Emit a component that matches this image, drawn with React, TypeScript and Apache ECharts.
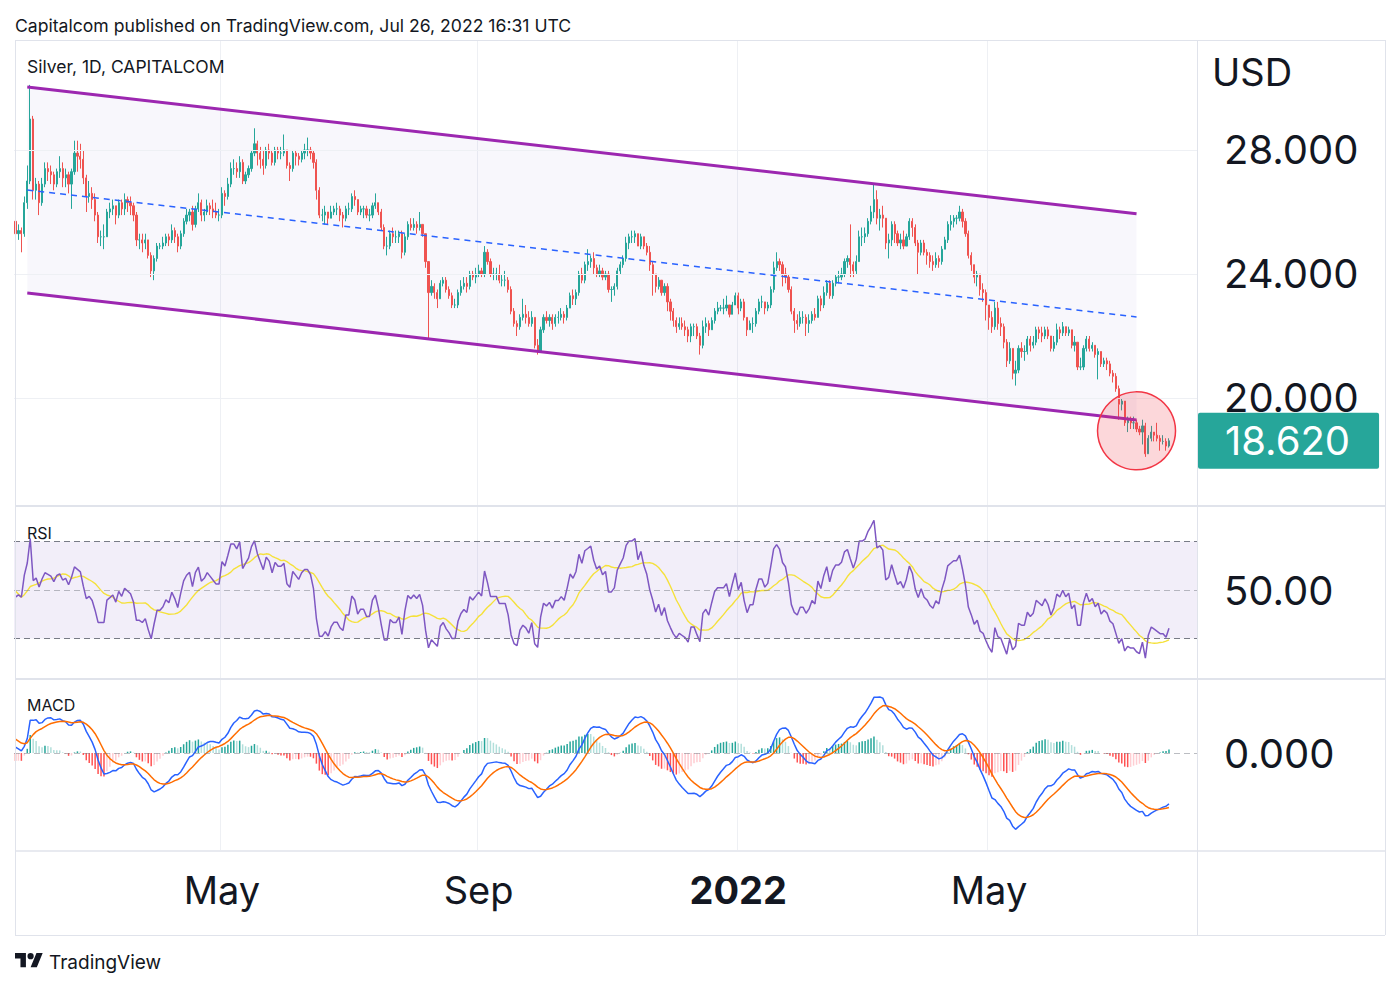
import React, { useEffect, useRef } from 'react';
import * as echarts from 'echarts';

const FONT = 'Inter, "Noto Sans", Roboto, sans-serif';

// ---------- DATA ----------
const startDate = '2021-01-25';
const futureBars = 9;

// closes before the visible window (only used to warm up RSI / MACD)
const warmupCloses = [
  24.8, 24.4, 24.2, 23.9, 24.1,
  23.5, 23.5, 23.4, 23.4, 22.7,
  22.5, 24.2, 24.3, 24.5, 24.1,
  25.2, 25.2, 23.9, 24.0, 23.9,
  24.0, 24.7, 24.9, 26.0, 25.8,
  25.9, 25.6, 25.6, 25.8, 25.8,
  26.3, 26.3, 26.4, 26.4, 26.4,
  27.3, 27.6, 27.1, 27.2, 24.9,
  24.5, 25.3, 25.4, 25.6, 24.8,
  25.0, 25.5, 25.8, 26.1, 25.7,
];

// daily closes, one week (Mon-Fri) per line, 2021-01-25 .. 2022-07-26
const closes = [
  25.30, 25.40, 25.30, 26.30, 27.00,
  29.00, 26.70, 26.90, 26.30, 26.90,
  27.40, 27.30, 27.20, 26.90, 27.30,
  27.40, 27.10, 27.20, 26.90, 27.30,
  27.90, 27.80, 27.70, 27.10, 26.50,
  26.60, 26.40, 25.90, 25.20, 25.20,
  25.20, 26.00, 26.10, 26.20, 25.90,
  26.30, 26.10, 26.40, 26.30, 26.20,
  25.90, 25.10, 25.10, 25.00, 25.10,
  24.60, 24.10, 24.50, 24.90, 24.90,
  25.00, 25.20, 25.10, 25.40, 25.20,
  24.90, 25.30, 25.70, 25.90, 26.00,
  25.60, 26.10, 26.30, 25.90, 26.00,
  26.20, 26.10, 26.00, 25.90, 25.90,
  26.60, 26.50, 26.90, 27.40, 27.40,
  27.30, 27.60, 27.00, 27.20, 27.40,
  27.90, 28.20, 27.90, 27.70, 27.50,
  28.00, 27.90, 27.60, 28.00, 27.90,
  27.90, 28.00, 27.50, 27.40, 27.90,
  27.80, 27.70, 27.90, 28.00, 28.00,
  27.90, 27.60, 26.70, 25.90, 25.90,
  26.00, 25.80, 26.00, 26.10, 26.10,
  25.90, 25.80, 26.10, 26.10, 26.50,
  26.40, 26.00, 26.10, 26.10, 25.90,
  25.90, 26.20, 26.30, 26.00, 25.50,
  24.90, 24.90, 25.30, 25.20, 25.20,
  25.30, 24.70, 25.20, 25.60, 25.50,
  25.60, 25.50, 25.60, 25.30, 24.40,
  23.40, 23.60, 23.40, 23.20, 23.70,
  23.80, 23.50, 23.30, 23.00, 23.00,
  23.40, 23.60, 23.70, 23.60, 24.00,
  23.90, 24.00, 24.10, 24.00, 24.70,
  24.40, 24.00, 24.00, 24.00, 23.80,
  23.80, 23.80, 23.50, 22.80, 22.40,
  22.30, 22.60, 22.70, 22.60, 22.40,
  22.60, 21.70, 21.50, 22.20, 22.60,
  22.50, 22.60, 22.40, 22.60, 22.60,
  22.70, 22.60, 22.90, 23.30, 23.20,
  23.40, 24.00, 23.80, 24.30, 24.40,
  24.50, 24.20, 24.00, 24.10, 23.90,
  24.00, 23.50, 23.50, 23.60, 24.10,
  24.30, 24.50, 25.00, 25.20, 25.20,
  25.30, 24.90, 25.20, 24.90, 24.70,
  24.30, 24.00, 23.60, 23.80, 23.40,
  23.60, 23.10, 22.80, 22.50, 22.30,
  22.40, 22.30, 22.20, 22.00, 22.30,
  22.30, 22.00, 21.70, 22.30, 22.40,
  22.20, 22.50, 22.80, 22.90, 22.90,
  22.90, 23.00, 22.70, 23.00, 23.30,
  22.90, 23.10, 22.60, 22.20, 22.40,
  22.40, 22.80, 23.10, 23.10, 22.90,
  23.00, 23.50, 24.20, 24.40, 24.30,
  24.00, 23.90, 23.50, 22.80, 22.50,
  22.40, 22.60, 22.60, 22.40, 22.50,
  22.70, 22.60, 23.20, 23.00, 23.40,
  23.70, 23.30, 23.70, 23.90, 23.90,
  24.00, 24.40, 24.50, 24.30, 24.10,
  24.40, 25.20, 25.20, 25.30, 25.70,
  26.00, 26.40, 25.80, 25.90, 25.80,
  25.00, 25.10, 25.60, 25.30, 25.00,
  25.10, 24.90, 25.20, 25.70, 25.50,
  25.00, 24.70, 25.00, 24.70, 24.60,
  24.40, 24.30, 24.50, 24.40, 24.80,
  25.10, 25.60, 25.70, 25.80, 25.80,
  26.00, 25.70, 25.30, 24.60, 24.30,
  23.90, 24.00, 23.50, 23.40, 23.00,
  22.60, 22.30, 22.90, 22.40, 22.30,
  21.80, 21.20, 21.60, 20.80, 20.90,
  21.60, 21.50, 21.50, 21.90, 21.70,
  21.80, 22.20, 22.10, 22.00, 22.20,
  22.00, 21.60, 21.80, 22.20, 22.10,
  22.30, 22.10, 22.20, 21.70, 21.80,
  21.00, 21.00, 21.60, 21.90, 21.60,
  21.70, 21.40, 21.50, 21.10, 21.20,
  21.10, 20.80, 20.70, 20.30, 19.80,
  19.90, 19.20, 19.30, 19.20, 19.20,
  19.00, 18.90, 19.10, 18.20, 18.70,
  18.90, 18.80, 18.70, 18.60, 18.60,
  18.45, 18.62,
];

const highs = [
  25.80, 25.60, 25.50, 26.50, 27.50,
  30.10, 29.10, 27.10, 27.00, 27.10,
  27.60, 27.60, 27.50, 27.30, 27.40,
  27.80, 27.60, 27.40, 27.30, 27.40,
  28.30, 28.30, 28.20, 28.00, 27.20,
  27.00, 26.80, 26.60, 26.00, 25.40,
  25.60, 26.10, 26.30, 26.40, 26.20,
  26.40, 26.40, 26.60, 26.50, 26.50,
  26.30, 26.00, 25.30, 25.30, 25.30,
  25.10, 24.70, 24.60, 25.00, 25.00,
  25.20, 25.30, 25.30, 25.60, 25.50,
  25.30, 25.40, 25.80, 26.10, 26.10,
  26.20, 26.20, 26.60, 26.40, 26.10,
  26.40, 26.30, 26.40, 26.30, 26.10,
  26.80, 26.70, 27.10, 27.60, 27.70,
  27.60, 27.80, 27.70, 27.30, 27.50,
  28.00, 28.70, 28.30, 28.10, 28.00,
  28.10, 28.20, 28.00, 28.10, 28.10,
  28.10, 28.50, 28.00, 27.60, 28.00,
  28.00, 27.90, 28.00, 28.20, 28.40,
  28.10, 28.00, 27.70, 26.80, 26.10,
  26.20, 26.00, 26.20, 26.20, 26.30,
  26.20, 26.00, 26.20, 26.30, 26.60,
  26.70, 26.40, 26.20, 26.20, 26.20,
  26.10, 26.30, 26.60, 26.30, 26.10,
  25.60, 25.20, 25.40, 25.50, 25.40,
  25.40, 25.40, 25.30, 25.70, 25.80,
  25.80, 25.70, 26.00, 25.60, 25.30,
  24.40, 23.80, 23.70, 23.50, 23.80,
  23.90, 23.90, 23.60, 23.40, 23.20,
  23.50, 23.80, 23.90, 23.90, 24.10,
  24.10, 24.20, 24.30, 24.20, 24.90,
  24.80, 24.50, 24.20, 24.20, 24.30,
  24.00, 24.10, 23.90, 23.60, 22.90,
  22.50, 22.70, 23.20, 23.00, 22.80,
  22.80, 22.60, 21.90, 22.30, 22.70,
  22.80, 22.70, 22.70, 22.70, 22.80,
  22.90, 22.80, 23.00, 23.40, 23.50,
  23.50, 24.10, 24.20, 24.40, 24.80,
  24.60, 24.70, 24.30, 24.30, 24.20,
  24.10, 24.10, 23.60, 23.70, 24.20,
  24.40, 24.60, 25.20, 25.30, 25.40,
  25.40, 25.30, 25.30, 25.20, 25.00,
  24.90, 24.40, 24.00, 23.90, 23.80,
  23.70, 23.70, 23.20, 22.90, 22.60,
  22.60, 22.60, 22.50, 22.30, 22.40,
  22.40, 22.40, 22.10, 22.50, 22.60,
  22.50, 22.60, 22.90, 23.10, 23.00,
  23.20, 23.30, 23.00, 23.10, 23.40,
  23.40, 23.20, 23.20, 22.60, 22.50,
  22.60, 22.90, 23.20, 23.30, 23.10,
  23.10, 23.60, 24.40, 24.70, 24.50,
  24.40, 24.20, 24.00, 23.60, 22.90,
  22.70, 22.80, 22.80, 22.70, 22.70,
  22.80, 22.90, 23.30, 23.30, 23.60,
  23.80, 23.80, 23.80, 24.00, 24.10,
  24.20, 24.50, 24.60, 25.60, 24.40,
  24.60, 25.40, 25.50, 25.50, 25.80,
  26.20, 26.90, 26.70, 26.10, 26.20,
  25.80, 25.30, 25.70, 25.70, 25.40,
  25.30, 25.40, 25.30, 25.80, 25.80,
  25.60, 25.10, 25.10, 25.10, 24.80,
  24.70, 24.60, 24.70, 24.60, 24.90,
  25.20, 25.70, 25.90, 25.90, 25.90,
  26.20, 26.10, 25.80, 25.40, 24.70,
  24.30, 24.10, 24.00, 23.70, 23.50,
  23.00, 22.80, 23.10, 23.10, 22.60,
  22.40, 21.90, 21.80, 21.60, 21.20,
  21.70, 21.80, 21.70, 22.00, 22.00,
  22.00, 22.30, 22.30, 22.30, 22.30,
  22.30, 22.00, 22.00, 22.40, 22.30,
  22.45, 22.30, 22.30, 22.20, 22.00,
  21.80, 21.30, 21.70, 22.00, 22.00,
  21.80, 21.70, 21.60, 21.50, 21.30,
  21.30, 21.20, 20.90, 20.80, 20.40,
  20.00, 19.90, 19.40, 19.40, 19.40,
  19.30, 19.10, 19.30, 19.20, 18.80,
  19.10, 18.90, 19.20, 18.80, 18.80,
  18.70, 18.70,
];

const lows = [
  25.10, 25.10, 24.70, 25.20, 26.10,
  26.90, 26.40, 26.40, 25.90, 26.20,
  26.80, 27.00, 26.90, 26.70, 26.80,
  27.10, 26.80, 26.80, 26.60, 26.10,
  27.20, 27.30, 27.40, 26.90, 26.00,
  26.30, 26.10, 25.70, 25.00, 24.90,
  24.80, 25.20, 25.80, 25.90, 25.60,
  25.80, 25.90, 25.90, 26.00, 25.90,
  25.70, 24.90, 24.80, 24.70, 24.80,
  24.50, 23.90, 23.80, 24.40, 24.80,
  24.80, 24.90, 24.90, 25.00, 25.00,
  24.70, 24.80, 25.20, 25.60, 25.70,
  25.40, 25.50, 26.00, 25.70, 25.70,
  25.90, 25.90, 25.80, 25.80, 25.70,
  25.80, 26.20, 26.40, 26.80, 27.20,
  27.10, 27.10, 26.90, 26.90, 27.10,
  27.30, 27.80, 27.50, 27.40, 27.20,
  27.40, 27.70, 27.50, 27.50, 27.70,
  27.70, 27.80, 27.40, 27.00, 27.30,
  27.50, 27.50, 27.60, 27.70, 27.80,
  27.70, 27.40, 26.40, 25.80, 25.70,
  25.60, 25.60, 25.80, 25.90, 25.90,
  25.70, 25.50, 25.70, 25.90, 26.00,
  26.20, 25.90, 25.90, 25.80, 25.80,
  25.70, 25.80, 26.10, 25.90, 25.40,
  24.80, 24.60, 24.80, 25.00, 25.00,
  25.00, 24.50, 24.60, 25.10, 25.40,
  25.40, 25.30, 25.40, 25.20, 24.20,
  21.90, 23.30, 23.20, 22.90, 23.20,
  23.60, 23.40, 23.20, 22.90, 22.90,
  22.90, 23.30, 23.50, 23.40, 23.50,
  23.80, 23.70, 23.90, 23.90, 23.90,
  24.30, 23.90, 23.80, 23.80, 23.70,
  23.60, 23.60, 23.40, 22.70, 22.30,
  22.00, 22.20, 22.50, 22.40, 22.30,
  22.30, 21.60, 21.40, 21.50, 22.10,
  22.40, 22.30, 22.20, 22.30, 22.40,
  22.50, 22.40, 22.50, 22.90, 23.00,
  23.00, 23.30, 23.70, 23.70, 24.10,
  24.20, 24.00, 23.90, 23.90, 23.80,
  23.80, 23.40, 23.10, 23.30, 23.50,
  24.00, 24.20, 24.40, 24.80, 25.00,
  25.00, 24.90, 24.80, 24.80, 24.60,
  24.10, 23.30, 23.40, 23.50, 23.30,
  23.30, 22.80, 22.50, 22.30, 22.10,
  22.20, 22.20, 22.00, 21.80, 21.80,
  22.00, 21.90, 21.40, 21.60, 22.10,
  22.00, 22.20, 22.40, 22.70, 22.80,
  22.70, 22.80, 22.60, 22.70, 23.00,
  22.70, 22.80, 22.50, 22.00, 22.20,
  22.10, 22.30, 22.70, 22.90, 22.70,
  22.80, 22.90, 23.40, 24.10, 24.10,
  23.60, 23.70, 23.40, 22.70, 22.10,
  22.20, 22.30, 22.40, 22.00, 22.10,
  22.40, 22.50, 22.60, 22.80, 22.90,
  23.30, 23.20, 23.20, 23.60, 23.70,
  23.80, 23.90, 24.20, 23.90, 23.90,
  24.00, 24.50, 24.90, 25.00, 25.20,
  25.60, 25.80, 25.60, 25.40, 25.50,
  24.80, 24.50, 24.90, 25.00, 24.90,
  24.80, 24.80, 24.90, 25.10, 25.20,
  24.90, 24.00, 24.60, 24.60, 24.30,
  24.20, 24.10, 24.20, 24.20, 24.30,
  24.80, 25.00, 25.40, 25.50, 25.60,
  25.70, 25.50, 25.20, 24.50, 24.10,
  23.70, 23.60, 23.30, 23.10, 22.50,
  22.20, 22.10, 22.20, 22.20, 22.00,
  21.60, 21.00, 21.10, 20.60, 20.40,
  20.80, 21.30, 21.20, 21.40, 21.50,
  21.60, 21.70, 21.90, 21.80, 21.90,
  21.90, 21.50, 21.50, 21.70, 21.90,
  22.00, 22.00, 22.00, 21.60, 21.50,
  20.90, 20.90, 20.90, 21.50, 21.50,
  21.50, 21.30, 20.60, 21.00, 21.00,
  20.90, 20.70, 20.50, 20.20, 19.30,
  19.60, 19.10, 18.90, 19.00, 19.00,
  18.90, 18.80, 18.50, 18.10, 18.20,
  18.60, 18.60, 18.60, 18.30, 18.50,
  18.30, 18.40,
];

// time-axis tick labels
const tickDates = ['2021-05-03', '2021-09-01', '2022-01-03', '2022-05-02'];
const tickLabels = ['May', 'Sep', '2022', 'May'];

// price-scale labels
const priceTicks = [20, 24, 28];
const rsiTicks = [50];
const rsiLevels = [70, 50, 30];
const macdTicks = [0];

// drawings: parallel channel (bar index, upper price, lower price) and the highlight circle
const channelIdx = [4, 380];
const channelUpper = [30.03, 25.94];
const channelLower = [23.39, 19.29];
const highlightIdx = 380;
const highlightPrice = 18.94;

// ---------- helpers ----------
function tradingDates(start: string, count: number): string[] {
  const out: string[] = [];
  const d = new Date(start + 'T00:00:00Z');
  while (out.length < count) {
    const wd = d.getUTCDay();
    if (wd !== 0 && wd !== 6) out.push(d.toISOString().slice(0, 10));
    d.setUTCDate(d.getUTCDate() + 1);
  }
  return out;
}

function rsiCalc(c: number[], n: number): (number | null)[] {
  const res: (number | null)[] = new Array(c.length).fill(null);
  let ag = 0, al = 0;
  for (let i = 1; i < c.length; i++) {
    const ch = c[i] - c[i - 1];
    const g = Math.max(ch, 0), l = Math.max(-ch, 0);
    if (i <= n) {
      ag += g / n; al += l / n;
      if (i === n) res[i] = al === 0 ? 100 : 100 - 100 / (1 + ag / al);
    } else {
      ag = (ag * (n - 1) + g) / n; al = (al * (n - 1) + l) / n;
      res[i] = al === 0 ? 100 : 100 - 100 / (1 + ag / al);
    }
  }
  return res;
}

function smaCalc(src: (number | null)[], n: number): (number | null)[] {
  return src.map((_, i) => {
    if (i < n - 1) return null;
    let s = 0;
    for (let k = i - n + 1; k <= i; k++) { const v = src[k]; if (v == null) return null; s += v; }
    return s / n;
  });
}

function emaCalc(src: (number | null)[], n: number): (number | null)[] {
  const out: (number | null)[] = new Array(src.length).fill(null);
  const a = 2 / (n + 1);
  let prev: number | null = null; const buf: number[] = [];
  for (let i = 0; i < src.length; i++) {
    const v = src[i];
    if (v == null) continue;
    if (prev == null) {
      buf.push(v);
      if (buf.length === n) { prev = buf.reduce((x, y) => x + y, 0) / n; out[i] = prev; }
    } else { prev = a * v + (1 - a) * prev; out[i] = prev; }
  }
  return out;
}

const logoPath = 'M14 22H7V11H0V4h14v18zM28 22h-8l7.5-18h8L28 22zM16 8a4 4 0 1 0 8 0a4 4 0 1 0 -8 0z';
echarts.graphic.registerShape('tvlogo', (echarts.graphic as any).extendPath(logoPath, {}));

function buildOption() {
  const n = closes.length;
  const dates = tradingDates(startDate, n + futureBars);
  const tickMap: Record<string, string> = {};
  tickDates.forEach((t, k) => { tickMap[t] = tickLabels[k]; });

  const candles = closes.map((c, i) => {
    const o = i === 0 ? warmupCloses[warmupCloses.length - 1] : closes[i - 1];
    return [o, c, Math.min(lows[i], o, c), Math.max(highs[i], o, c)];
  });

  const all = warmupCloses.concat(closes);
  const off = warmupCloses.length;
  const rsiAll = rsiCalc(all, 14);
  const rsiMaAll = smaCalc(rsiAll, 14);
  const e12 = emaCalc(all, 12), e26 = emaCalc(all, 26);
  const macdAll = all.map((_, i) => (e12[i] != null && e26[i] != null ? (e12[i] as number) - (e26[i] as number) : null));
  const sigAll = emaCalc(macdAll, 9);
  const histAll = macdAll.map((m, i) => (m != null && sigAll[i] != null ? m - (sigAll[i] as number) : null));
  const histItems = histAll.map((h, i) => {
    if (h == null) return null;
    const p = i > 0 ? histAll[i - 1] : null;
    const rising = p != null && h > p;
    const color = h >= 0 ? (rising ? '#26a69a' : '#b2dfdb') : (rising ? '#ffcdd2' : '#ff5252');
    return { value: h, itemStyle: { color } };
  });

  const rsi = rsiAll.slice(off);
  const rsiMa = rsiMaAll.slice(off);
  const macd = macdAll.slice(off);
  const sig = sigAll.slice(off);
  const hist = histItems.slice(off);

  const vis = ([] as (number | null)[]).concat(macd, sig).filter((v) => v != null) as number[];
  const mx = Math.max(...vis), mn = Math.min(...vis);
  const s = Math.min(56 / mx, 77 / -mn);
  const macdMax = 73 / s, macdMin = -97 / s;

  const last = closes[n - 1];
  const gridLine = '#eef0f4';

  const xAxisBase = (k: number) => ({
    type: 'category', gridIndex: k, data: dates, boundaryGap: true,
    axisLine: { show: false }, axisTick: { show: false },
    splitLine: {
      show: true,
      interval: (_i: number, v: string) => tickMap[v] !== undefined,
      lineStyle: { color: gridLine, width: 1 },
    },
    axisLabel: k === 2 ? {
      show: true,
      interval: (_i: number, v: string) => tickMap[v] !== undefined,
      formatter: (v: string) => (tickMap[v] === '2022' ? '{b|2022}' : tickMap[v] || ''),
      fontSize: 38, color: '#131722', fontFamily: FONT, margin: 20, lineHeight: 40,
      rich: { b: { fontSize: 38, fontWeight: 'bold', color: '#131722', fontFamily: FONT, lineHeight: 40 } },
    } : { show: false },
  });

  const yLabel = (vals: number[], digits: number) => ({
    show: true, customValues: vals, formatter: (v: number) => v.toFixed(digits),
    fontSize: 40, color: '#131722', fontFamily: FONT, margin: 27,
  });

  const frame = '#e0e3eb';
  const ln = (x1: number, y1: number, x2: number, y2: number, w = 1) => ({
    type: 'line', silent: true, z: 100,
    shape: { x1, y1, x2, y2 }, style: { stroke: frame, lineWidth: w },
  });

  const channelRow = [[channelIdx[0], channelUpper[0], channelLower[0], channelIdx[1], channelUpper[1], channelLower[1]]];

  return {
    animation: false,
    backgroundColor: '#ffffff',
    textStyle: { fontFamily: FONT },
    grid: [
      { left: 14, top: 40, width: 1183, height: 465, outerBoundsMode: 'none' },
      { left: 14, top: 507, width: 1183, height: 171, outerBoundsMode: 'none' },
      { left: 14, top: 680, width: 1183, height: 170, outerBoundsMode: 'none' },
    ],
    xAxis: [xAxisBase(0), xAxisBase(1), xAxisBase(2)],
    yAxis: [
      { type: 'value', gridIndex: 0, position: 'right', min: 16.548, max: 31.548,
        splitLine: { show: false }, axisLine: { show: false }, axisTick: { show: false },
        axisLabel: yLabel(priceTicks, 3) },
      { type: 'value', gridIndex: 1, position: 'right', min: 13.71, max: 84.23,
        splitLine: { show: false }, axisLine: { show: false }, axisTick: { show: false },
        axisLabel: yLabel(rsiTicks, 2) },
      { type: 'value', gridIndex: 2, position: 'right', min: macdMin, max: macdMax,
        splitLine: { show: false }, axisLine: { show: false }, axisTick: { show: false },
        axisLabel: yLabel(macdTicks, 3) },
    ],
    series: [
      {
        type: 'custom', name: 'channelBand', xAxisIndex: 0, yAxisIndex: 0, z: 1, silent: true,
        data: channelRow,
        encode: { x: [0, 3], y: [1, 2, 4, 5] },
        renderItem: (_p: any, api: any) => {
          const a = api.coord([api.value(0), api.value(1)]);
          const b = api.coord([api.value(3), api.value(4)]);
          const c = api.coord([api.value(3), api.value(5)]);
          const e = api.coord([api.value(0), api.value(2)]);
          return { type: 'polygon', shape: { points: [a, b, c, e] }, style: { fill: 'rgba(103,58,183,0.045)' } };
        },
        markLine: {
          silent: true, symbol: ['none', 'none'], label: { show: false },
          lineStyle: { color: gridLine, type: 'solid', width: 1 },
          data: priceTicks.map((p) => ({ yAxis: p })),
        },
      },
      {
        type: 'candlestick', name: 'Silver', xAxisIndex: 0, yAxisIndex: 0, z: 3,
        data: candles, barWidth: 1.7,
        itemStyle: { color: '#26a69a', color0: '#ef5350', borderColor: '#26a69a', borderColor0: '#ef5350', borderWidth: 1 },
        markLine: {
          silent: true, symbol: ['none', 'none'],
          lineStyle: { width: 0, color: 'transparent' },
          data: [{ yAxis: last }],
          label: {
            show: true, position: 'end', distance: 1, formatter: last.toFixed(3),
            color: '#ffffff', backgroundColor: '#26a69a', fontSize: 40, fontFamily: FONT,
            padding: [9, 29, 7, 27], borderRadius: 2,
          },
        },
      },
      {
        type: 'custom', name: 'drawings', xAxisIndex: 0, yAxisIndex: 0, z: 6, silent: true,
        data: channelRow,
        encode: { x: [0, 3], y: [1, 2, 4, 5] },
        renderItem: (_p: any, api: any) => {
          const x0 = api.value(0), x1 = api.value(3);
          const u0 = api.value(1), l0 = api.value(2), u1 = api.value(4), l1 = api.value(5);
          const U0 = api.coord([x0, u0]), U1 = api.coord([x1, u1]);
          const L0 = api.coord([x0, l0]), L1 = api.coord([x1, l1]);
          const M0 = api.coord([x0, (u0 + l0) / 2]), M1 = api.coord([x1, (u1 + l1) / 2]);
          const C = api.coord([highlightIdx, highlightPrice]);
          return {
            type: 'group',
            children: [
              { type: 'line', shape: { x1: M0[0], y1: M0[1], x2: M1[0], y2: M1[1] }, style: { stroke: '#2962ff', lineWidth: 1.5, lineDash: [6, 5] } },
              { type: 'line', shape: { x1: U0[0], y1: U0[1], x2: U1[0], y2: U1[1] }, style: { stroke: '#9c27b0', lineWidth: 3 } },
              { type: 'line', shape: { x1: L0[0], y1: L0[1], x2: L1[0], y2: L1[1] }, style: { stroke: '#9c27b0', lineWidth: 3 } },
              { type: 'circle', shape: { cx: C[0], cy: C[1], r: 39 }, style: { fill: 'rgba(242,54,69,0.2)', stroke: '#f23645', lineWidth: 1.5 } },
            ],
          };
        },
      },
      {
        type: 'line', name: 'RSI', xAxisIndex: 1, yAxisIndex: 1, data: rsi, showSymbol: false, z: 3,
        lineStyle: { color: '#7e57c2', width: 1.5 }, itemStyle: { color: '#7e57c2' },
        markArea: {
          silent: true, itemStyle: { color: 'rgba(126,87,194,0.1)' },
          data: [[{ yAxis: rsiLevels[2] }, { yAxis: rsiLevels[0] }]],
        },
        markLine: {
          silent: true, symbol: ['none', 'none'], label: { show: false },
          data: [
            { yAxis: rsiLevels[0], lineStyle: { color: '#787b86', type: [6, 4], width: 1 } },
            { yAxis: rsiLevels[1], lineStyle: { color: 'rgba(120,123,134,0.5)', type: [6, 4], width: 1 } },
            { yAxis: rsiLevels[2], lineStyle: { color: '#787b86', type: [6, 4], width: 1 } },
          ],
        },
      },
      {
        type: 'line', name: 'RSI MA', xAxisIndex: 1, yAxisIndex: 1, data: rsiMa, showSymbol: false, z: 2,
        lineStyle: { color: '#f5e13a', width: 1.4 }, itemStyle: { color: '#f5e13a' },
      },
      {
        type: 'bar', name: 'Histogram', xAxisIndex: 2, yAxisIndex: 2, data: hist, barWidth: 1.5, z: 2,
        markLine: {
          silent: true, symbol: ['none', 'none'], label: { show: false },
          data: [{ yAxis: 0 }],
          lineStyle: { color: 'rgba(120,123,134,0.5)', type: [6, 4], width: 1 },
        },
      },
      {
        type: 'line', name: 'MACD', xAxisIndex: 2, yAxisIndex: 2, data: macd, showSymbol: false, z: 3,
        lineStyle: { color: '#2962ff', width: 1.5 }, itemStyle: { color: '#2962ff' },
      },
      {
        type: 'line', name: 'Signal', xAxisIndex: 2, yAxisIndex: 2, data: sig, showSymbol: false, z: 4,
        lineStyle: { color: '#ff6d00', width: 1.5 }, itemStyle: { color: '#ff6d00' },
      },
    ],
    graphic: [
      ln(15, 40.5, 1385, 40.5),
      ln(15, 935.5, 1385, 935.5),
      ln(15.5, 40, 15.5, 935),
      ln(1385.5, 40, 1385.5, 935),
      ln(1197.5, 40, 1197.5, 935),
      ln(15, 506, 1385, 506, 2),
      ln(15, 679, 1385, 679, 2),
      ln(15, 851, 1385, 851, 1.5),
      { type: 'text', x: 15, y: 25, z: 100, style: { text: 'Capitalcom published on TradingView.com, Jul 26, 2022 16:31 UTC', fontSize: 17.6, fill: '#131722', fontFamily: FONT, verticalAlign: 'middle' } },
      { type: 'text', x: 27, y: 66, z: 100, style: { text: 'Silver, 1D, CAPITALCOM', fontSize: 17.5, fill: '#131722', fontFamily: FONT, verticalAlign: 'middle' } },
      { type: 'text', x: 27, y: 533, z: 100, style: { text: 'RSI', fontSize: 16, fill: '#131722', fontFamily: FONT, verticalAlign: 'middle' } },
      { type: 'text', x: 27, y: 705, z: 100, style: { text: 'MACD', fontSize: 16, fill: '#131722', fontFamily: FONT, verticalAlign: 'middle' } },
      { type: 'text', x: 1212, y: 72, z: 100, style: { text: 'USD', fontSize: 38, fill: '#131722', fontFamily: FONT, verticalAlign: 'middle' } },
      { type: 'tvlogo', x: 15, y: 950, scaleX: 0.78, scaleY: 0.78, z: 100, style: { fill: '#131722' } },
      { type: 'text', x: 49, y: 962, z: 100, style: { text: 'TradingView', fontSize: 19, fill: '#131722', fontFamily: FONT, verticalAlign: 'middle' } },
    ],
  };
}

export default function App() {
  const ref = useRef<HTMLDivElement>(null);
  useEffect(() => {
    if (!ref.current) return;
    const chart = echarts.init(ref.current, null, { renderer: 'svg' });
    chart.setOption(buildOption() as any);
    return () => chart.dispose();
  }, []);
  return <div ref={ref} style={{ position: 'absolute', left: 0, top: 0, width: 1400, height: 987, background: '#ffffff' }} />;
}
